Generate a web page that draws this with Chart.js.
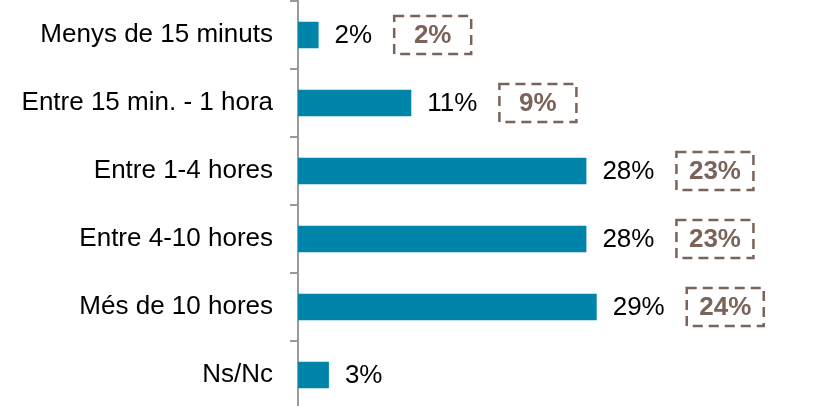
<!DOCTYPE html>
<html>
<head>
<meta charset="utf-8">
<script src="https://cdn.jsdelivr.net/npm/chart.js@4"></script>
<style>
  html, body { margin: 0; padding: 0; background: #fff; overflow: hidden; }
  #wrap { width: 823px; height: 410px; }
</style>
</head>
<body>
<div id="wrap"><canvas id="timeChart"></canvas></div>
<script>
// Temps dedicat - percentatge actual i de l'any anterior
const categories = ['Menys de 15 minuts', 'Entre 15 min. - 1 hora', 'Entre 1-4 hores', 'Entre 4-10 hores', 'Més de 10 hores', 'Ns/Nc'];
const values = [2, 11, 28, 28, 29, 3];
const prevValues = [2, 9, 23, 23, 24, null];

const FONT = '"Liberation Sans", Arial, sans-serif';
const BAR_COLOR = '#0084a9';
const BOX_COLOR = '#7a645a';

// value label next to each bar + dashed box with the previous value
const labelsPlugin = {
  id: 'valueLabels',
  afterDatasetsDraw(chart) {
    const ctx = chart.ctx;
    const meta = chart.getDatasetMeta(0);
    ctx.save();
    ctx.textBaseline = 'middle';
    meta.data.forEach((bar, i) => {
      const txt = values[i] + '%';
      ctx.font = '26px ' + FONT;
      ctx.fillStyle = '#000';
      ctx.textAlign = 'left';
      const tx = bar.x + 16;
      ctx.fillText(txt, tx, bar.y + 1);
      if (prevValues[i] == null) return;
      const w = ctx.measureText(txt).width;
      const bw = 77, bh = 38;
      const bx = tx + w + 22;
      const by = bar.y - bh / 2;
      ctx.strokeStyle = BOX_COLOR;
      ctx.lineWidth = 2.5;
      ctx.setLineDash([10, 6]);
      ctx.strokeRect(bx, by, bw, bh);
      ctx.setLineDash([]);
      ctx.font = 'bold 26px ' + FONT;
      ctx.fillStyle = BOX_COLOR;
      ctx.textAlign = 'center';
      ctx.fillText(prevValues[i] + '%', bx + bw / 2, bar.y + 1);
    });
    ctx.restore();
  }
};

const ctx = document.getElementById('timeChart').getContext('2d');
new Chart(ctx, {
  type: 'bar',
  data: {
    labels: categories,
    datasets: [{
      data: values,
      backgroundColor: BAR_COLOR,
      categoryPercentage: 1,
      barPercentage: 0.39
    }]
  },
  options: {
    indexAxis: 'y',
    responsive: true,
    maintainAspectRatio: false,
    animation: false,
    layout: { padding: { top: 1, bottom: 1, left: 0, right: 10 } },
    plugins: { legend: { display: false }, tooltip: { enabled: false } },
    scales: {
      x: { display: false, min: 0, max: 50 },
      y: {
        offset: true,
        grid: {
          offset: true,
          drawOnChartArea: false,
          drawTicks: true,
          tickLength: 8,
          color: '#9a9a9a',
          lineWidth: 2
        },
        border: { display: true, color: '#9a9a9a', width: 2 },
        ticks: {
          color: '#000',
          padding: 17,
          font: { family: FONT, size: 26 }
        },
        afterFit(scale) {
          scale.width = 298;
          scale.paddingTop = 0;
          scale.paddingBottom = 0;
        }
      }
    }
  },
  plugins: [labelsPlugin]
});
</script>
</body>
</html>
